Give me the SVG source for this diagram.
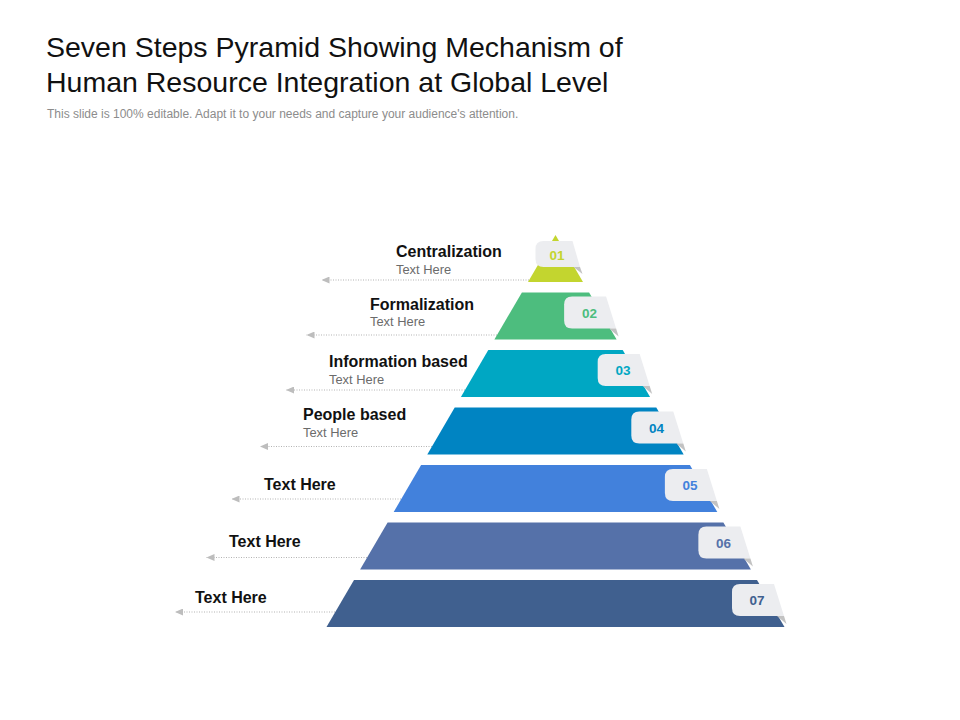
<svg xmlns="http://www.w3.org/2000/svg" width="960" height="720" viewBox="0 0 960 720">
  <style>
    .title { font-family: "Liberation Sans", Arial, sans-serif; font-size: 28.5px; fill: #111111; }
    .sub { font-family: "Liberation Sans", Arial, sans-serif; font-size: 12px; fill: #8c8c8c; }
    .lbl { font-family: "Liberation Sans", Arial, sans-serif; font-size: 16px; font-weight: bold; fill: #111111; }
    .desc { font-family: "Liberation Sans", Arial, sans-serif; font-size: 12.9px; fill: #6b6b6b; }
    .num { font-family: "Liberation Sans", Arial, sans-serif; font-size: 13.5px; font-weight: bold; text-anchor: middle; }
    .badge { fill: #ecedf0; }
    .fold { fill: #c2c2c2; }
    .conn { stroke: #b3b3b3; stroke-width: 1; stroke-dasharray: 1 1.5; fill: none; }
  </style>
  <defs>
    <marker id="arrow" viewBox="0 0 8 7" refX="8" refY="3.5" markerWidth="8" markerHeight="7" markerUnits="userSpaceOnUse" orient="auto">
      <path d="M0,0 L8,3.5 L0,7 Z" fill="#bdbdbd"/>
    </marker>
  </defs>
  <rect width="960" height="720" fill="#ffffff"/>

  <g id="header">
    <text class="title" x="46" y="57">Seven Steps Pyramid Showing Mechanism of</text>
    <text class="title" x="46" y="92">Human Resource Integration at Global Level</text>
    <text class="sub" x="47" y="117.5">This slide is 100% editable. Adapt it to your needs and capture your audience's attention.</text>
  </g>

  <g id="connectors">
    <line class="conn" x1="529" y1="280" x2="321.5" y2="280" marker-end="url(#arrow)"/>
    <line class="conn" x1="497" y1="335" x2="306.5" y2="335" marker-end="url(#arrow)"/>
    <line class="conn" x1="465" y1="390" x2="286" y2="390" marker-end="url(#arrow)"/>
    <line class="conn" x1="432" y1="446.5" x2="260" y2="446.5" marker-end="url(#arrow)"/>
    <line class="conn" x1="401" y1="499" x2="231.5" y2="499" marker-end="url(#arrow)"/>
    <line class="conn" x1="367" y1="557.5" x2="206.5" y2="557.5" marker-end="url(#arrow)"/>
    <line class="conn" x1="335" y1="612" x2="175" y2="612" marker-end="url(#arrow)"/>
  </g>

  <g id="step1">
    <polygon points="555.5,235 583,282 528,282" fill="#c3d52f"/>
    <path class="badge" d="M543.5,241 H572.5 L580,267 H543.5 Q535.5,267 535.5,259 V249 Q535.5,241 543.5,241 Z"/>
    <polygon class="fold" points="573.5,267 580,267 582.5,274"/>
    <text class="num" x="557" y="260" fill="#c3d52f">01</text>
    <text class="lbl" x="396" y="257">Centralization</text>
    <text class="desc" x="396" y="273.5">Text Here</text>
  </g>

  <g id="step2">
    <polygon points="521.9,292.5 589.1,292.5 616.6,339.5 494.4,339.5" fill="#4dbd7e"/>
    <path class="badge" d="M572.1,296.5 H606.1 L616.1,328.5 H572.1 Q564.1,328.5 564.1,320.5 V304.5 Q564.1,296.5 572.1,296.5 Z"/>
    <polygon class="fold" points="609.1,328.5 616.1,328.5 618.6,336.5"/>
    <text class="num" x="589.5" y="317.5" fill="#4dbd7e">02</text>
    <text class="lbl" x="370" y="309.5">Formalization</text>
    <text class="desc" x="370" y="326">Text Here</text>
  </g>

  <g id="step3">
    <polygon points="488.3,350 622.7,350 650.1,397 460.9,397" fill="#00a7c3"/>
    <path class="badge" d="M605.7,354 H639.7 L649.7,386 H605.7 Q597.7,386 597.7,378 V362 Q597.7,354 605.7,354 Z"/>
    <polygon class="fold" points="642.7,386 649.7,386 652.2,394"/>
    <text class="num" x="623" y="375" fill="#00a7c3">03</text>
    <text class="lbl" x="329" y="367">Information based</text>
    <text class="desc" x="329" y="383.5">Text Here</text>
  </g>

  <g id="step4">
    <polygon points="454.7,407.5 656.3,407.5 683.7,454.5 427.3,454.5" fill="#0084c2"/>
    <path class="badge" d="M639.3,411.5 H673.3 L683.3,443.5 H639.3 Q631.3,443.5 631.3,435.5 V419.5 Q631.3,411.5 639.3,411.5 Z"/>
    <polygon class="fold" points="676.3,443.5 683.3,443.5 685.8,451.5"/>
    <text class="num" x="656.5" y="432.5" fill="#0084c2">04</text>
    <text class="lbl" x="303" y="420">People based</text>
    <text class="desc" x="303" y="437">Text Here</text>
  </g>

  <g id="step5">
    <polygon points="421.1,465 689.9,465 717.3,512 393.7,512" fill="#4281dc"/>
    <path class="badge" d="M672.9,469 H706.9 L716.9,501 H672.9 Q664.9,501 664.9,493 V477 Q664.9,469 672.9,469 Z"/>
    <polygon class="fold" points="709.9,501 716.9,501 719.4,509"/>
    <text class="num" x="690" y="490" fill="#4281dc">05</text>
    <text class="lbl" x="264" y="490">Text Here</text>
  </g>

  <g id="step6">
    <polygon points="387.6,522.5 723.4,522.5 750.9,569.5 360.1,569.5" fill="#5571a9"/>
    <path class="badge" d="M706.4,526.5 H740.4 L750.4,558.5 H706.4 Q698.4,558.5 698.4,550.5 V534.5 Q698.4,526.5 706.4,526.5 Z"/>
    <polygon class="fold" points="743.4,558.5 750.4,558.5 752.9,566.5"/>
    <text class="num" x="723.5" y="547.5" fill="#5571a9">06</text>
    <text class="lbl" x="229" y="546.5">Text Here</text>
  </g>

  <g id="step7">
    <polygon points="354,580 757,580 784.5,627 326.5,627" fill="#40608f"/>
    <path class="badge" d="M740,584 H774 L784,616 H740 Q732,616 732,608 V592 Q732,584 740,584 Z"/>
    <polygon class="fold" points="777,616 784,616 786.5,624"/>
    <text class="num" x="757" y="605" fill="#40608f">07</text>
    <text class="lbl" x="195" y="603">Text Here</text>
  </g>
</svg>
